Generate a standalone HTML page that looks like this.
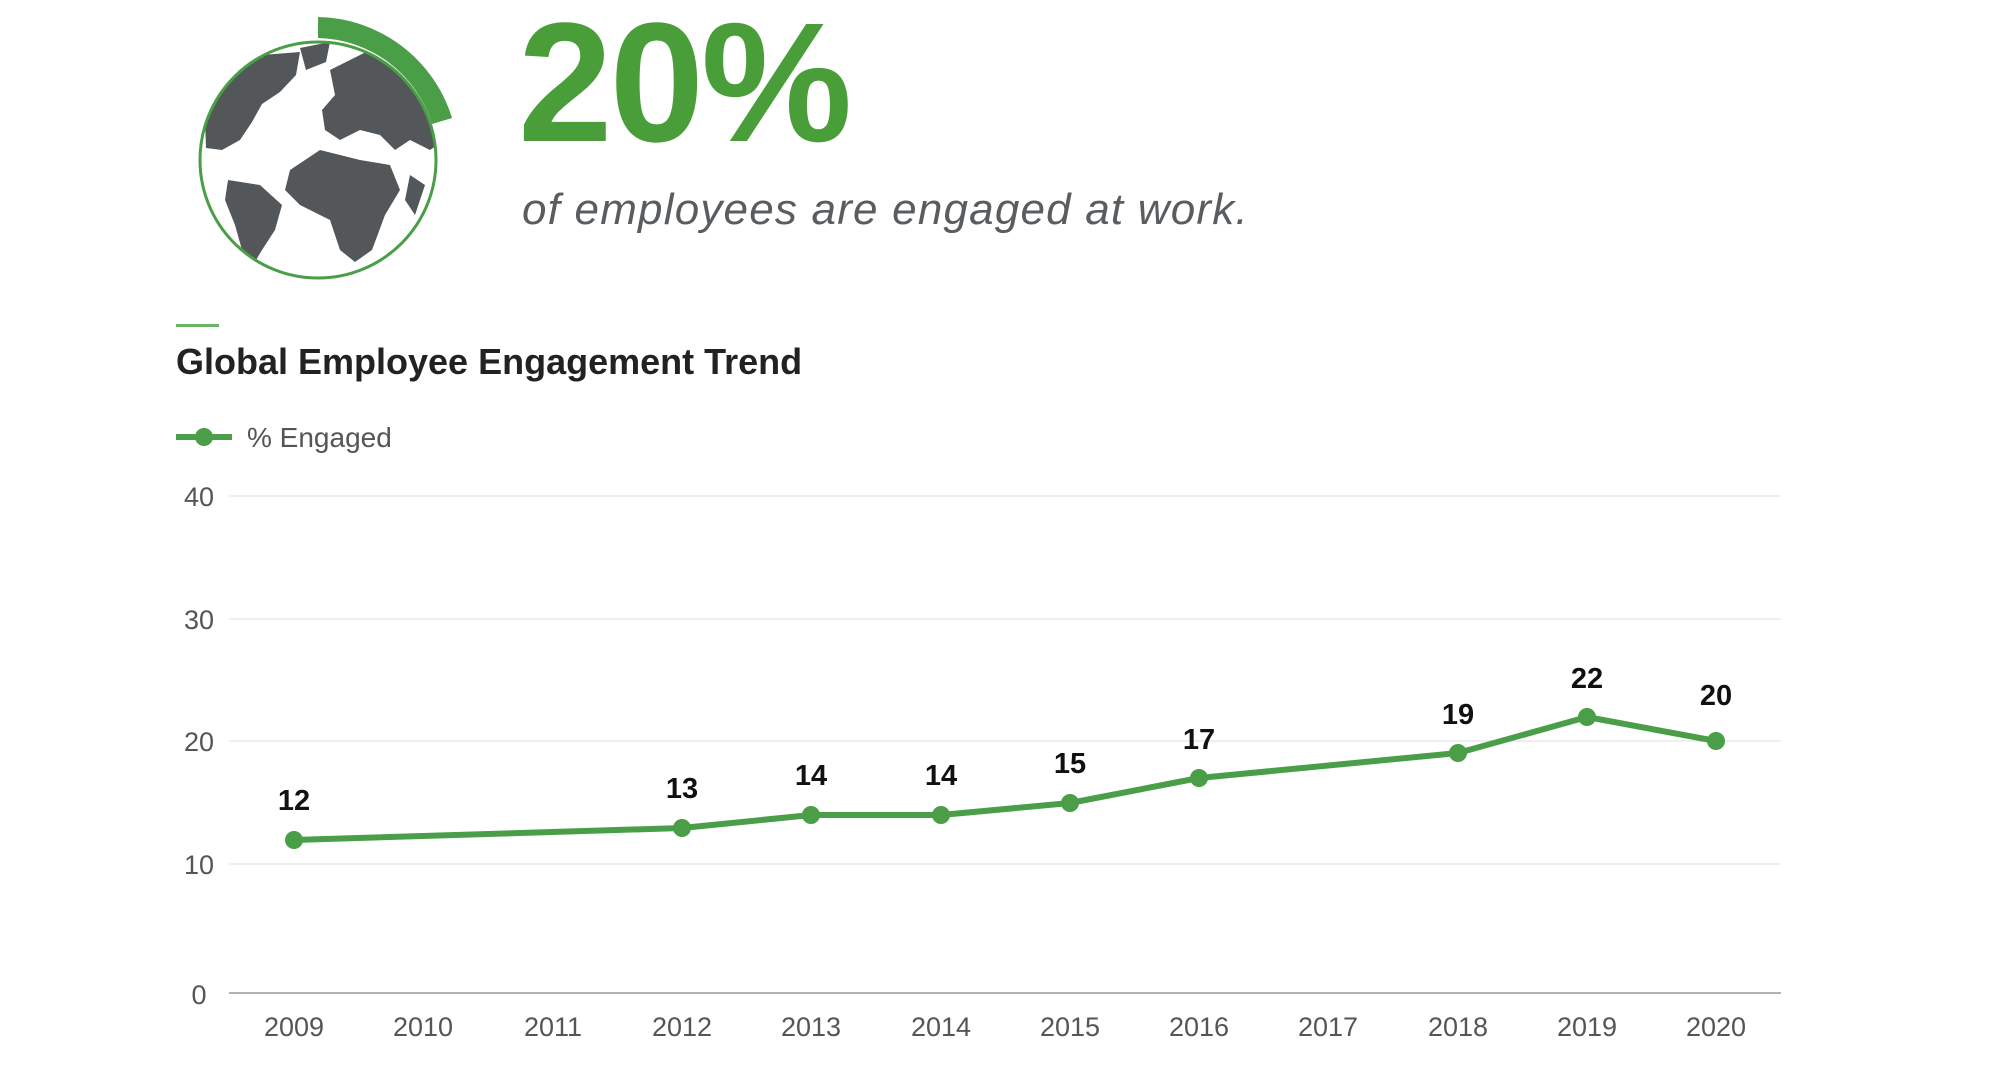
<!DOCTYPE html>
<html><head><meta charset="utf-8"><style>
html,body{margin:0;padding:0;background:#fff;}
body{width:1999px;height:1069px;position:relative;overflow:hidden;font-family:"Liberation Sans",sans-serif;}
</style></head><body>
<svg width="1999" height="1069" viewBox="0 0 1999 1069" xmlns="http://www.w3.org/2000/svg" style="position:absolute;left:0;top:0">
<g>
<path d="M318,17 A143,143 0 0 1 452,118 L432,124 A122,122 0 0 0 318,38 Z" fill="#4a9e47"/>
<clipPath id="gc"><circle cx="318" cy="160" r="117"/></clipPath>
<g clip-path="url(#gc)" fill="#53575a">
<path d="M205,120 L230,78 L262,55 L300,52 L296,75 L280,92 L262,104 L252,122 L240,140 L222,150 L206,148 Z"/>
<path d="M300,48 L330,42 L326,62 L306,70 Z"/>
<path d="M330,70 L370,50 L420,60 L440,100 L445,140 L430,150 L410,140 L395,150 L380,135 L360,130 L340,140 L325,130 L322,110 L335,95 Z"/>
<path d="M290,170 L320,150 L360,160 L390,165 L400,190 L385,215 L372,250 L355,262 L340,250 L330,220 L300,205 L285,190 Z"/>
<path d="M228,180 L260,185 L282,205 L275,230 L262,250 L250,270 L242,250 L235,225 L225,200 Z"/>
<path d="M410,175 L425,185 L415,215 L405,200 Z"/>
</g>
<circle cx="318" cy="160" r="118" fill="none" stroke="#4a9e47" stroke-width="3"/>
</g>
<text x="518" y="141" font-size="170" font-weight="bold" fill="#4a9e3a" letter-spacing="-3">20%</text>
<text x="522" y="224" font-size="44" font-style="italic" fill="#5a5d60" letter-spacing="1.2">of employees are engaged at work.</text>
<rect x="176" y="324" width="43" height="3" fill="#6ab466"/>
<text x="176" y="374" font-size="36" font-weight="bold" fill="#222">Global Employee Engagement Trend</text>
<line x1="176" y1="437" x2="232" y2="437" stroke="#4a9e47" stroke-width="6"/>
<circle cx="204" cy="437" r="9" fill="#4a9e47"/>
<text x="247" y="447" font-size="28" fill="#555">% Engaged</text>
<g stroke="#e8e8e8" stroke-width="1.5">
<line x1="229" y1="496" x2="1781" y2="496"/>
<line x1="229" y1="619" x2="1781" y2="619"/>
<line x1="229" y1="741" x2="1781" y2="741"/>
<line x1="229" y1="864" x2="1781" y2="864"/>
</g>
<line x1="229" y1="993" x2="1781" y2="993" stroke="#999" stroke-width="1.5"/>
<g font-size="27" fill="#555" text-anchor="middle">
<text x="199" y="506">40</text><text x="199" y="629">30</text><text x="199" y="751">20</text><text x="199" y="874">10</text><text x="199" y="1004">0</text>
<text x="294" y="1036">2009</text><text x="423" y="1036">2010</text><text x="553" y="1036">2011</text><text x="682" y="1036">2012</text><text x="811" y="1036">2013</text><text x="941" y="1036">2014</text><text x="1070" y="1036">2015</text><text x="1199" y="1036">2016</text><text x="1328" y="1036">2017</text><text x="1458" y="1036">2018</text><text x="1587" y="1036">2019</text><text x="1716" y="1036">2020</text>
</g>
<polyline fill="none" stroke="#4a9e47" stroke-width="6" stroke-linejoin="round" points="294,840 682,828 811,815 941,815 1070,803 1199,778 1458,753 1587,717 1716,741"/>
<g fill="#4a9e47">
<circle cx="294" cy="840" r="9"/><circle cx="682" cy="828" r="9"/><circle cx="811" cy="815" r="9"/><circle cx="941" cy="815" r="9"/><circle cx="1070" cy="803" r="9"/><circle cx="1199" cy="778" r="9"/><circle cx="1458" cy="753" r="9"/><circle cx="1587" cy="717" r="9"/><circle cx="1716" cy="741" r="9"/>
</g>
<g font-size="29" font-weight="bold" fill="#111" text-anchor="middle">
<text x="294" y="810">12</text><text x="682" y="798">13</text><text x="811" y="785">14</text><text x="941" y="785">14</text><text x="1070" y="773">15</text><text x="1199" y="749">17</text><text x="1458" y="724">19</text><text x="1587" y="688">22</text><text x="1716" y="705">20</text>
</g>
</svg>
</body></html>
